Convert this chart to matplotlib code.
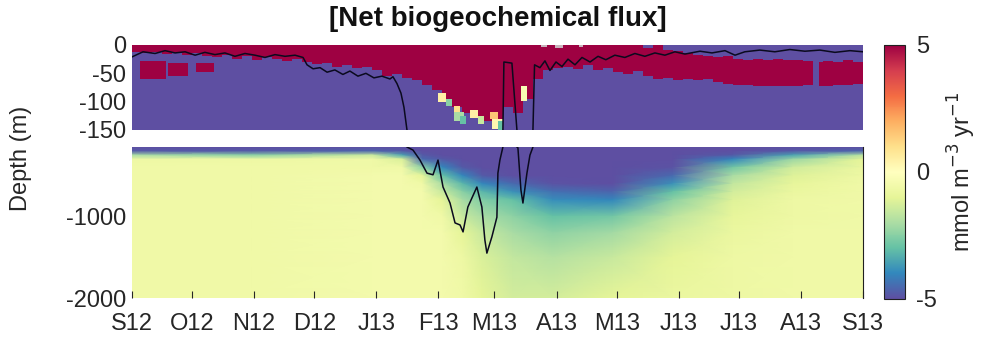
import numpy as np
import matplotlib.pyplot as plt
from matplotlib.colors import Normalize

plt.rcParams['font.family'] = ['Liberation Sans', 'DejaVu Sans']
plt.rcParams['axes.unicode_minus'] = False

# x axis: days since 1 Sep 2012
month_days = [0, 30, 61, 91, 122, 153, 181, 212, 242, 273, 303, 334, 365]
month_labels = ['S12', 'O12', 'N12', 'D12', 'J13', 'F13', 'M13', 'A13',
                'M13', 'J13', 'J13', 'A13', 'S13']

# upper 150 m: productive (positive) layer top/bottom depth, one value per 5 days
red_top = [0, 0, 0, 0, 0, 0, 0, 0, 0, 0,
           0, 0, 0, 0, 0, 0, 0, 0, 0, 0,
           0, 0, 0, 0, 0, 0, 0, 0, 0, 0,
           0, 0, 0, 0, 0, 0, 0, 0, 0, 0,
           0, 0, 0, 0, 0, 0, 0, 0, 0, 0,
           0, 5, 0, 8, 10, 14, 18, 20, 22, 20,
           24, 26, 24, 26, 25, 27, 26, 28, 30, 28,
           30, 26, 30]
red_bot = [12, 14, 12, 16, 14, 18, 15, 20, 22, 18,
           24, 20, 26, 22, 25, 28, 24, 30, 34, 32,
           38, 36, 40, 38, 45, 55, 52, 58, 62, 70,
           80, 95, 110, 120, 125, 135, 140, 110, 120, 95,
           60, 45, 40, 38, 42, 36, 44, 40, 48, 52,
           46, 55, 60, 58, 62, 60, 62, 60, 66, 68,
           70, 70, 72, 72, 72, 72, 72, 70, 72, 72,
           70, 70, 68]
# extra patches in the upper panel: day0, day1, depth0, depth1, value
top_patches = [(4, 17, 28, 60, 5), (18, 28, 32, 55, 5), (32, 41, 32, 48, 5),
               (153, 157, 85, 100, 0.5), (157, 160, 95, 108, -2.5),
               (161, 164, 108, 118, 1.0), (161, 166, 118, 135, -2.0),
               (164, 167, 125, 140, -3.0), (169, 173, 115, 128, 0.5),
               (173, 176, 125, 140, -1.5), (179, 183, 118, 130, 1.5),
               (180, 185, 130, 148, 0.3), (183, 185, 135, 150, -3.0),
               (194, 197, 72, 98, -0.3), (340, 343, 30, 72, -5),
               (204, 207, 0, 4, np.nan), (211, 215, 0, 6, np.nan),
               (223, 225, 0, 4, np.nan)]

# deep section (150-2000 m): profiles at selected days
bot_days = [0, 60, 120, 135, 145, 155, 165, 175, 190, 210, 240, 270, 300, 330, 365]
bot_depths = [150, 200, 250, 300, 400, 500, 600, 700, 800, 1000, 1200, 1500, 2000]
bot_profiles = [
    [-5, -4.8, -2.0, -0.7, -0.6, -0.6, -0.6, -0.6, -0.6, -0.6, -0.6, -0.6, -0.6],
    [-5, -4.8, -2.5, -0.7, -0.6, -0.6, -0.6, -0.6, -0.6, -0.6, -0.6, -0.6, -0.6],
    [-5, -4.6, -1.5, -0.6, -0.6, -0.5, -0.5, -0.5, -0.5, -0.5, -0.5, -0.5, -0.5],
    [-5, -4.8, -3.5, -1.2, -0.6, -0.5, -0.5, -0.5, -0.5, -0.5, -0.5, -0.5, -0.5],
    [-5, -5, -4.8, -4.5, -2.5, -1.0, -0.6, -0.5, -0.5, -0.5, -0.5, -0.5, -0.5],
    [-5, -5, -5, -4.8, -4.0, -3.0, -2.0, -1.5, -1.0, -0.6, -0.5, -0.5, -0.5],
    [-5, -5, -5, -5, -4.8, -4.0, -3.2, -2.5, -2.0, -1.5, -1.0, -0.7, -0.6],
    [-5, -5, -5, -5, -5, -4.8, -4.0, -3.2, -2.6, -2.0, -1.5, -1.2, -1.0],
    [-5, -5, -5, -5, -5, -5, -4.5, -3.8, -3.0, -2.4, -2.0, -1.6, -1.3],
    [-5, -5, -5, -5, -5, -5, -4.9, -4.4, -3.9, -3.0, -2.4, -1.8, -1.3],
    [-5, -5, -5, -5, -5, -5, -5, -4.6, -4.0, -2.8, -2.1, -1.5, -1.0],
    [-5, -5, -5, -5, -4.9, -4.5, -3.8, -3.0, -2.4, -1.7, -1.3, -1.0, -0.8],
    [-5, -5, -4.8, -4.0, -2.8, -2.0, -1.6, -1.3, -1.1, -0.9, -0.8, -0.7, -0.7],
    [-5, -4.8, -3.5, -2.2, -1.4, -1.1, -0.9, -0.8, -0.7, -0.7, -0.6, -0.6, -0.6],
    [-5, -4.6, -1.8, -1.0, -0.8, -0.7, -0.6, -0.6, -0.6, -0.6, -0.6, -0.6, -0.6],
]

# mixed layer depth (m)
mld_day = [0, 5.5, 11.5, 16.5, 21.5, 26.5, 31.5, 36.4, 41.4, 46.4, 51.4, 56.4,
           61.4, 66.4, 71.4, 76.4, 81.4, 85.4, 87.4, 90.4, 93.9, 97.4, 101.3,
           105.3, 108.8, 112.8, 116.8, 120.8, 124.8, 128.8, 130.3, 132.3, 134.3,
           135.8, 137.3, 140.3, 143.8, 147.3, 150.3, 152.8, 155.3, 158.8, 161.3,
           163.8, 165.3, 167.7, 172.2, 174.7, 176.2, 177.2, 179.7, 182.2, 182.7,
           183.7, 185.2, 185.7, 189.7, 192.2, 192.7, 194.2, 195.2, 197.2, 198.7,
           200.2, 201.0, 203.7, 206.2, 208.7, 211.7, 214.7, 217.7, 221.2, 224.7,
           228.7, 232.7, 236.6, 241.1, 246.1, 251.1, 256.1, 261.1, 266.1, 271.1,
           276.1, 283.6, 289.6, 296.1, 301.1, 306.0, 313.5, 321.0, 328.5, 336.0,
           343.5, 351.0, 358.5, 365]
mld_depth = [21, 12, 15, 10, 14, 12, 18, 13, 17, 14, 20, 15,
             18, 22, 17, 20, 18, 22, 35, 42, 40, 48, 44,
             52, 46, 55, 50, 58, 55, 60, 56, 68, 85,
             110, 150, 187, 310, 470, 490, 310, 640, 836, 1080,
             1105, 1190, 885, 640, 885, 1290, 1450, 1250, 1010, 470,
             310, 150, 30, 32, 150, 160, 676, 836, 470, 250,
             150, 35, 40, 28, 45, 30, 38, 25, 35, 22,
             30, 20, 26, 18, 22, 15, 20, 14, 18, 12,
             16, 11, 14, 10, 18, 12, 9, 12, 8, 11,
             9, 13, 10, 12]

cmap = plt.get_cmap('Spectral_r').copy()
cmap.set_bad('#c8b4bc')
norm = Normalize(-5, 5)

# build upper field on 1 day x 1 m cells
dc = np.arange(365) + 0.5
zc = np.arange(150) + 0.5
idx = (dc // 5).astype(int)
rt = np.array(red_top, float)[idx]
rb = np.array(red_bot, float)[idx]
top = np.full((150, 365), -5.0)
top[(zc[:, None] >= rt[None, :]) & (zc[:, None] < rb[None, :])] = 5
for d0, d1, z0, z1, v in top_patches:
    m = (zc[:, None] >= z0) & (zc[:, None] < z1) & (dc[None, :] >= d0) & (dc[None, :] < d1)
    top[m] = v
top = np.ma.masked_invalid(top)

fig = plt.figure(figsize=(9.83, 3.38), dpi=100)
ax1 = fig.add_axes([0.1343, 0.6154, 0.7436, 0.2515])
ax2 = fig.add_axes([0.1343, 0.1183, 0.7436, 0.4467])
cax = fig.add_axes([0.8993, 0.1154, 0.0214, 0.7515])

ax1.pcolormesh(np.arange(366), -np.arange(151), top, cmap=cmap, norm=norm)
D, Z = np.meshgrid(bot_days, bot_depths)
pm = ax2.pcolormesh(D, -Z, np.array(bot_profiles).T, cmap=cmap, norm=norm,
                    shading='gouraud')

for ax in (ax1, ax2):
    ax.plot(mld_day, -np.array(mld_depth), color='#0a0a1e', lw=1.1)
    ax.set_xlim(0, 365)
    for s in ax.spines.values():
        s.set_visible(False)
    ax.tick_params(colors='#262626', labelsize=17, direction='in', length=5)

ax1.set_ylim(-150, 0)
ax1.set_yticks([0, -50, -100, -150])
ax1.set_xticks([])
ax1.tick_params(axis='y', length=0, pad=4)

ax2.set_ylim(-2000, -150)
ax2.set_yticks([-1000, -2000])
ax2.tick_params(axis='y', length=0, pad=4)
ax2.set_xticks(month_days)
ax2.set_xticklabels(month_labels)
ax2.tick_params(axis='x', pad=11)
ax2.spines['right'].set_visible(True)
ax2.spines['right'].set_color('#202020')

cb = fig.colorbar(pm, cax=cax, ticks=[-5, 0, 5])
cb.outline.set_edgecolor('#202020')
cb.outline.set_linewidth(0.8)
cax.tick_params(labelsize=17, colors='#262626', length=0, pad=8)
cb.set_label('mmol m$^{-3}$ yr$^{-1}$', fontsize=17, color='#262626', labelpad=6)

fig.text(0.021, 0.53, 'Depth (m)', rotation=90, fontsize=17, color='#262626',
         ha='center', va='center')
fig.text(0.506, 0.945, '[Net biogeochemical flux]', fontsize=20, fontweight='bold',
         ha='center', va='center', color='#111111')

fig.savefig('out.png', dpi=100)
